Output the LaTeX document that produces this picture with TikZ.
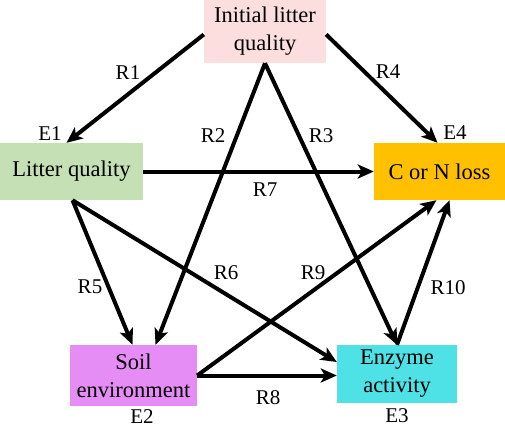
\documentclass[tikz,border=0pt]{standalone}
\usepackage{fontspec}
\setmainfont{Liberation Serif}
\newfontfamily\tnr{Liberation Serif}
\usetikzlibrary{arrows.meta}
\definecolor{cpink}{RGB}{252,222,222}
\definecolor{cgreen}{RGB}{197,224,180}
\definecolor{corange}{RGB}{255,192,0}
\definecolor{cviolet}{RGB}{230,140,245}
\definecolor{ccyan}{RGB}{78,226,230}
\begin{document}
\begin{tikzpicture}[x=1pt,y=-1pt,
 box/.style={rectangle, inner sep=0pt, align=center, font=\tnr\fontsize{22.5}{28}\selectfont},
 lab/.style={inner sep=0pt, font=\tnr\fontsize{21}{24}\selectfont},
 arr/.style={line width=4pt, -{Stealth[length=16pt,width=14pt,inset=4pt]}}]
\useasboundingbox (0,0) rectangle (505,429);
\node[box, fill=cpink, minimum width=122pt, minimum height=63pt] (init) at (265,31.5) {Initial litter\\quality};
\node[box, fill=cgreen, minimum width=143pt, minimum height=57pt] (lit) at (71.5,171.5) {Litter quality};
\node[box, fill=corange, minimum width=131pt, minimum height=57pt] (cn) at (439.5,171.5) {C or N loss};
\node[box, fill=cviolet, minimum width=127pt, minimum height=61pt] (soil) at (133.5,375.5) {Soil\\environment};
\node[box, fill=ccyan, minimum width=120pt, minimum height=58pt] (enz) at (397,374) {Enzyme\\activity};
% connectors
\draw[arr] ([yshift=-3pt]init.west) -- ([xshift=-5pt]lit.north);
\draw[arr] ([yshift=-3pt]init.east) -- ([xshift=-2pt]cn.north);
\draw[arr] (init.south) -- ([xshift=22pt]soil.north);
\draw[arr] (init.south) -- (enz.north);
\draw[arr] ([xshift=1pt]lit.south) -- ([xshift=-1pt]soil.north);
\draw[arr] ([xshift=1pt]lit.south) -- ([yshift=12pt]enz.west);
\draw[arr] (lit.east) -- (cn.west);
\draw[arr] (soil.east) -- (enz.west |- soil.east);
\draw[arr] (soil.east) -- ([xshift=-3pt]cn.south);
\draw[arr] (enz.north) -- ([xshift=10pt]cn.south);
% labels
\node[lab] (e1) at (50,134) {E1};
\node[lab] (e4) at (455,133) {E4};
\node[lab] (e2) at (142,417) {E2};
\node[lab] (e3) at (397,416) {E3};
\node[lab] (r1) at (128,73) {R1};
\node[lab] (r4) at (388,72) {R4};
\node[lab] (r2) at (213,136) {R2};
\node[lab] (r3) at (321,136) {R3};
\node[lab] (r7) at (265,190) {R7};
\node[lab] (r5) at (90,287) {R5};
\node[lab] (r6) at (226,273) {R6};
\node[lab] (r9) at (313,273) {R9};
\node[lab] (r10) at (448,288) {R10};
\node[lab] (r8) at (268,398) {R8};
\end{tikzpicture}
\end{document}
